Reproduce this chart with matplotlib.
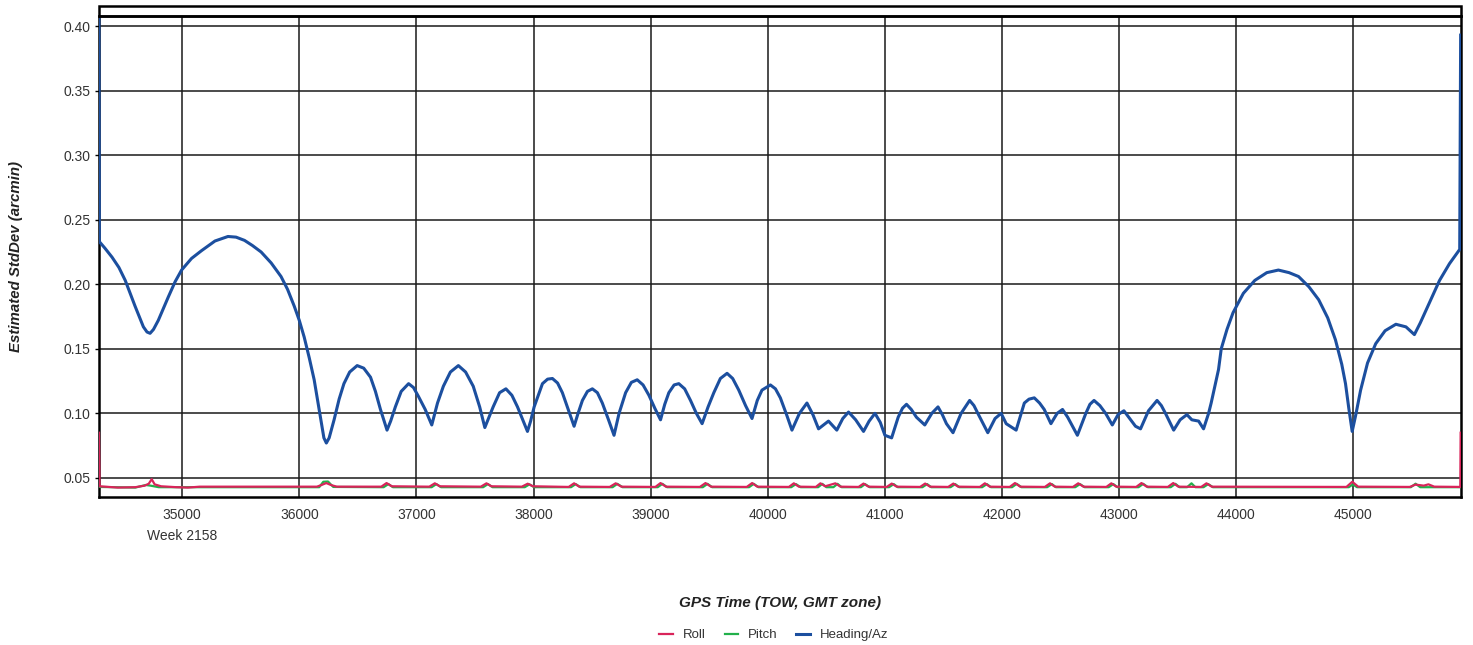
import matplotlib
matplotlib.use("Agg")

import matplotlib.pyplot as plt
from matplotlib.patches import Rectangle

plt.rcParams["font.family"] = ["Liberation Sans", "DejaVu Sans"]

# Heading/Az estimated std dev (arcmin) vs GPS time of week
heading_x = [
    34290, 34293, 34340, 34401, 34460, 34514, 34598, 34669, 34700, 34726,
    34755, 34796, 34881, 34940, 34995, 35080, 35165, 35280, 35391, 35460,
    35532, 35600, 35674, 35760, 35844, 35900, 35957, 36000, 36042, 36085,
    36127, 36160, 36183, 36210, 36231, 36255, 36297, 36340, 36381, 36430,
    36494, 36550, 36608, 36650, 36693, 36749, 36780, 36820, 36870, 36933,
    36975, 37018, 37075, 37131, 37180, 37230, 37290, 37358, 37420, 37485,
    37540, 37584, 37655, 37710, 37764, 37815, 37863, 37948, 37975, 38005,
    38076, 38120, 38161, 38205, 38246, 38300, 38346, 38380, 38417, 38460,
    38502, 38545, 38587, 38640, 38687, 38730, 38786, 38835, 38885, 38935,
    38985, 39035, 39084, 39120, 39155, 39200, 39240, 39290, 39340, 39390,
    39439, 39490, 39539, 39595, 39652, 39700, 39752, 39810, 39865, 39910,
    39950, 40022, 40065, 40107, 40160, 40206, 40270, 40334, 40385, 40433,
    40518, 40589, 40640, 40689, 40750, 40817, 40865, 40915, 40960, 41000,
    41057, 41113, 41150, 41184, 41225, 41269, 41340, 41400, 41453, 41490,
    41525, 41581, 41650, 41723, 41760, 41793, 41878, 41940, 41992, 42035,
    42120, 42190, 42230, 42275, 42320, 42360, 42417, 42470, 42516, 42560,
    42601, 42643, 42715, 42750, 42785, 42835, 42884, 42941, 42990, 43040,
    43090, 43139, 43182, 43250, 43323, 43360, 43395, 43465, 43520, 43578,
    43620, 43678, 43720, 43763, 43785, 43848, 43871, 43920, 43972, 44060,
    44158, 44260, 44359, 44450, 44531, 44620, 44703, 44780, 44846, 44900,
    44932, 44960, 44989, 45020, 45061, 45120, 45190, 45270, 45362, 45448,
    45520, 45570, 45620, 45680, 45735, 45820, 45907, 45915,
]
heading_y = [
    0.405, 0.233, 0.228, 0.221, 0.213, 0.203, 0.183, 0.167, 0.163, 0.162,
    0.165, 0.172, 0.190, 0.202, 0.211, 0.220, 0.226, 0.2335, 0.237, 0.2365,
    0.234, 0.230, 0.225, 0.2165, 0.206, 0.196, 0.183, 0.172, 0.159, 0.143,
    0.126, 0.108, 0.095, 0.081, 0.077, 0.081, 0.095, 0.111, 0.123, 0.132,
    0.137, 0.135, 0.128, 0.117, 0.103, 0.087, 0.094, 0.105, 0.117, 0.123,
    0.120, 0.113, 0.103, 0.091, 0.108, 0.121, 0.132, 0.137, 0.132, 0.121,
    0.105, 0.089, 0.105, 0.116, 0.119, 0.114, 0.105, 0.086, 0.094, 0.105,
    0.123, 0.1265, 0.127, 0.1235, 0.116, 0.102, 0.090, 0.100, 0.110, 0.117,
    0.119, 0.116, 0.108, 0.095, 0.083, 0.100, 0.116, 0.124, 0.126, 0.122,
    0.114, 0.104, 0.095, 0.107, 0.116, 0.122, 0.123, 0.119, 0.110, 0.100,
    0.092, 0.105, 0.116, 0.127, 0.131, 0.127, 0.118, 0.106, 0.096, 0.110,
    0.118, 0.122, 0.119, 0.112, 0.099, 0.087, 0.100, 0.108, 0.099, 0.088,
    0.094, 0.087, 0.096, 0.101, 0.095, 0.086, 0.094, 0.100, 0.093, 0.083,
    0.081, 0.097, 0.104, 0.107, 0.103, 0.097, 0.091, 0.100, 0.105, 0.099,
    0.092, 0.085, 0.100, 0.110, 0.106, 0.100, 0.085, 0.096, 0.100, 0.092,
    0.087, 0.108, 0.111, 0.112, 0.108, 0.103, 0.092, 0.100, 0.103, 0.097,
    0.090, 0.083, 0.100, 0.107, 0.110, 0.106, 0.100, 0.091, 0.099, 0.102,
    0.096, 0.090, 0.088, 0.102, 0.110, 0.106, 0.100, 0.087, 0.095, 0.099,
    0.095, 0.094, 0.088, 0.100, 0.108, 0.134, 0.150, 0.165, 0.178, 0.193,
    0.203, 0.209, 0.211, 0.209, 0.206, 0.198, 0.188, 0.174, 0.157, 0.138,
    0.123, 0.104, 0.086, 0.099, 0.118, 0.139, 0.154, 0.164, 0.169, 0.167,
    0.161, 0.170, 0.180, 0.192, 0.203, 0.216, 0.227, 0.393,
]

roll_x = [
    34290, 34295, 34450, 34600, 34680, 34715, 34740, 34765, 34820, 34950,
    35050, 35150, 36150, 36190, 36230, 36270, 36320,
    36700, 36745, 36790, 37110, 37157, 37200, 37550, 37598, 37640,
    37900, 37950, 37995, 38300, 38346, 38390, 38650, 38701, 38750,
    39040, 39084, 39130, 39420, 39468, 39515, 39820, 39866, 39910,
    40180, 40222, 40265, 40410, 40449, 40490, 40577, 40620,
    40775, 40817, 40860, 41015, 41058, 41100, 41300, 41343, 41385,
    41540, 41584, 41625, 41810, 41853, 41895, 42065, 42110, 42155,
    42365, 42409, 42450, 42605, 42650, 42695, 42890, 42933, 42975,
    43145, 43190, 43235, 43415, 43461, 43505, 43700, 43745, 43790,
    44940, 44990, 45040, 45480, 45530, 45600, 45640, 45690, 45912, 45915,
]
roll_y = [
    0.0850, 0.0435, 0.0425, 0.0428, 0.0440, 0.0455, 0.0490, 0.0450, 0.0435, 0.0428,
    0.0425, 0.0432, 0.0432, 0.0445, 0.0460, 0.0445, 0.0432,
    0.0432, 0.0460, 0.0435, 0.0432, 0.0458, 0.0435, 0.0432, 0.0458, 0.0435,
    0.0432, 0.0455, 0.0435, 0.0430, 0.0458, 0.0432, 0.0430, 0.0458, 0.0432,
    0.0430, 0.0460, 0.0432, 0.0430, 0.0460, 0.0432, 0.0430, 0.0460, 0.0432,
    0.0430, 0.0458, 0.0432, 0.0430, 0.0458, 0.0435, 0.0458, 0.0432,
    0.0430, 0.0456, 0.0432, 0.0430, 0.0456, 0.0432, 0.0430, 0.0456, 0.0432,
    0.0430, 0.0456, 0.0432, 0.0430, 0.0458, 0.0432, 0.0430, 0.0460, 0.0432,
    0.0430, 0.0458, 0.0432, 0.0430, 0.0458, 0.0432, 0.0430, 0.0458, 0.0432,
    0.0430, 0.0460, 0.0432, 0.0430, 0.0460, 0.0432, 0.0430, 0.0458, 0.0432,
    0.0430, 0.0470, 0.0432, 0.0430, 0.0448, 0.0440, 0.0450, 0.0432, 0.0430, 0.0850,
]

pitch_x = [
    34290, 34600, 34690, 34730, 34800,
    36170, 36205, 36245, 36290,
    36720, 36760, 36800, 37130, 37170, 37210, 37570, 37610, 37650,
    37925, 37965, 38005, 38320, 38360, 38400, 38675, 38715, 38760,
    39060, 39100, 39140, 39445, 39485, 39525, 39840, 39880, 39920,
    40200, 40240, 40280, 40430, 40465, 40500, 40560, 40595, 40630,
    40795, 40830, 40870, 41035, 41075, 41110, 41320, 41360, 41395,
    41560, 41600, 41635, 41830, 41870, 41905, 42085, 42125, 42165,
    42385, 42425, 42460, 42625, 42665, 42705, 42910, 42950, 42985,
    43165, 43205, 43245, 43440, 43480, 43515, 43580, 43617, 43650,
    43720, 43760, 43800, 44960, 44995, 45030, 45490, 45530, 45570,
    45915,
]
pitch_y = [
    0.0430, 0.0425, 0.0445, 0.0440, 0.0428,
    0.0428, 0.0470, 0.0472, 0.0430,
    0.0428, 0.0452, 0.0428, 0.0428, 0.0452, 0.0428, 0.0428, 0.0452, 0.0428,
    0.0428, 0.0450, 0.0428, 0.0428, 0.0452, 0.0428, 0.0428, 0.0454, 0.0428,
    0.0428, 0.0454, 0.0428, 0.0428, 0.0454, 0.0428, 0.0428, 0.0454, 0.0428,
    0.0428, 0.0452, 0.0428, 0.0428, 0.0454, 0.0428, 0.0428, 0.0454, 0.0428,
    0.0428, 0.0452, 0.0428, 0.0428, 0.0452, 0.0428, 0.0428, 0.0452, 0.0428,
    0.0428, 0.0452, 0.0428, 0.0428, 0.0452, 0.0428, 0.0428, 0.0454, 0.0428,
    0.0428, 0.0452, 0.0428, 0.0428, 0.0452, 0.0428, 0.0428, 0.0452, 0.0428,
    0.0428, 0.0454, 0.0428, 0.0428, 0.0454, 0.0428, 0.0428, 0.0458, 0.0428,
    0.0428, 0.0452, 0.0428, 0.0428, 0.0450, 0.0428, 0.0428, 0.0455, 0.0428,
    0.0428,
]

x_ticks = list(range(35000, 46000, 1000))
y_ticks = [0.05, 0.10, 0.15, 0.20, 0.25, 0.30, 0.35, 0.40]

W, H = 1473, 645
fig = plt.figure(figsize=(W / 100, H / 100), dpi=100)
ax = fig.add_axes([99 / W, 1 - 497 / H, (1461 - 99) / W, (497 - 16) / H])

ax.plot(roll_x, roll_y, color="#d9245a", lw=1.6, label="Roll", zorder=4)
ax.plot(pitch_x, pitch_y, color="#22b04b", lw=1.6, label="Pitch", zorder=3)
ax.plot(heading_x, heading_y, color="#1c4f9f", lw=2.2, label="Heading/Az",
        zorder=5, solid_joinstyle="round")

ax.set_xlim(34290, 45918)
ax.set_ylim(0.0352, 0.4078)
ax.set_xticks(x_ticks)
ax.set_yticks(y_ticks)
ax.set_xticklabels([str(t) for t in x_ticks])
ax.set_yticklabels([f"{t:.2f}" for t in y_ticks])
ax.grid(True, color="#1a1a1a", lw=1.1)
ax.set_axisbelow(True)
ax.tick_params(axis="y", length=3, width=1, pad=3, labelsize=10, labelcolor="#333333")
ax.tick_params(axis="x", length=0, pad=8, labelsize=10, labelcolor="#333333")
for s in ax.spines.values():
    s.set_linewidth(1.8)
    s.set_color("black")

ax.annotate("Week 2158", xy=(35000, 0), xycoords=("data", "axes fraction"),
            xytext=(0, -28), textcoords="offset points", ha="center", va="center",
            fontsize=10, color="#333333")

ax.set_ylabel("Estimated StdDev (arcmin)", fontsize=10.8, fontweight="bold",
              fontstyle="italic", color="#222222")
ax.yaxis.set_label_coords((23 - 99) / (1461 - 99), 0.5)
ax.set_xlabel("GPS Time (TOW, GMT zone)", fontsize=11, fontweight="bold",
              fontstyle="italic", color="#222222")
ax.xaxis.label.set_va("center")
ax.xaxis.set_label_coords(0.5, -(603 - 497) / (497 - 16))

# header strip above the plot area
fig.patches.append(Rectangle((99 / W, 1 - 16 / H), (1461 - 99) / W, 10 / H,
                             transform=fig.transFigure, fill=False,
                             edgecolor="black", lw=1.8))

fig.legend(loc="center", bbox_to_anchor=(774 / W, 1 - 635 / H), ncol=3,
           frameon=False, fontsize=9.5, handlelength=1.0, handletextpad=0.8,
           columnspacing=1.4, labelcolor="#333333")

fig.savefig("out.png", dpi=100)
